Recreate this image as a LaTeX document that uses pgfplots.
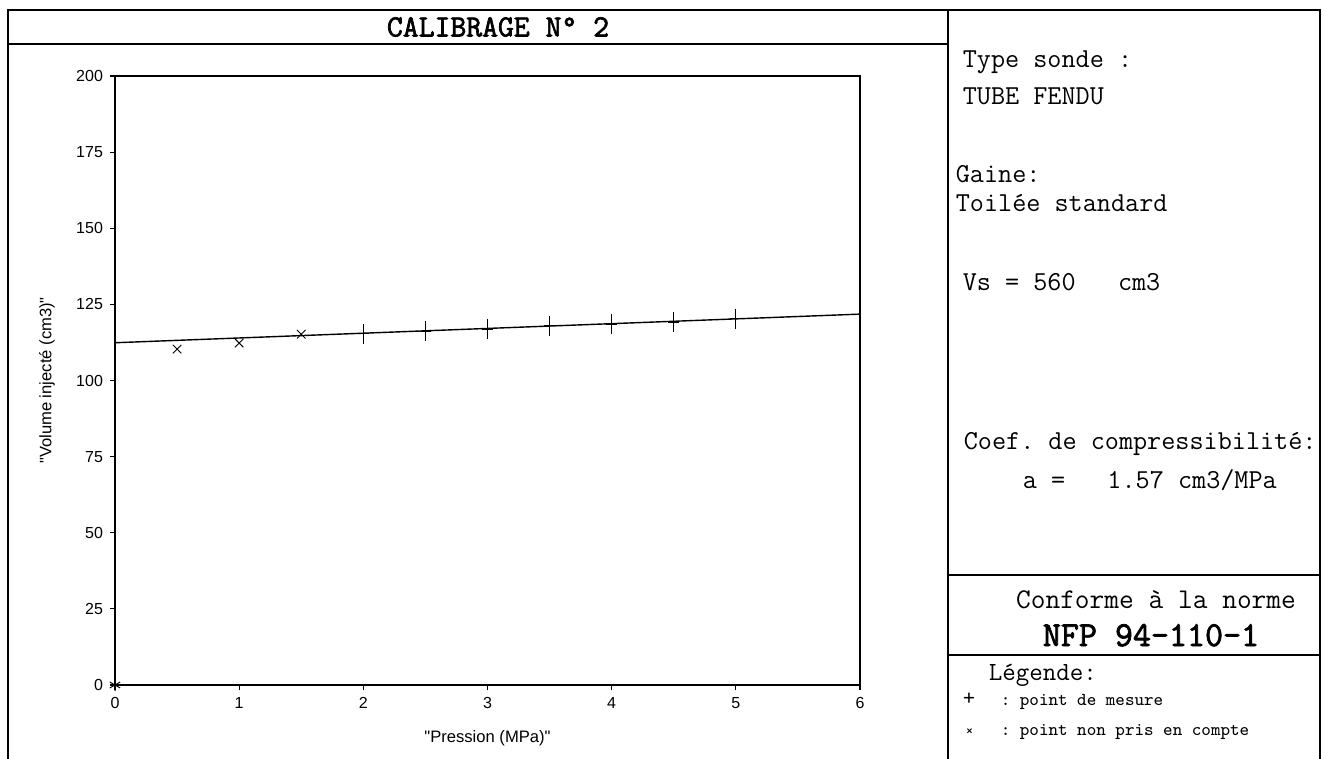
\documentclass[border=0pt]{standalone}
\usepackage{fontspec}
\setmainfont{Liberation Sans}[Ligatures=TeXOff]
\newfontfamily\monob{Latin Modern Mono}[FakeBold=2.2]
\usepackage{pgfplots}
\pgfplotsset{compat=1.18}
\newcommand{\mono}{\ttfamily}
\newcommand{\dq}{\symbol{34}}

\begin{document}
\begin{tikzpicture}
\useasboundingbox (0,0) rectangle (662pt,-379.5pt);

% frame and text blocks, 1 unit = 1 px of the reference
\begin{scope}[x=0.5pt,y=-0.5pt,line width=0.8pt]
  \draw (8,765) -- (8,10) -- (1320,10) -- (1320,765);
  \draw (948,10) -- (948,765);
  \draw (8,44) -- (948,44);
  \draw (948,575) -- (1320,575);
  \draw (948,655) -- (1320,655);

  \node[anchor=center,inner sep=0] at (498,27) {\monob\fontsize{15.4}{17}\selectfont CALIBRAGE N° 2};

  \begin{scope}[every node/.style={anchor=base west,inner sep=0}]
    \node at (962,68)  {\mono\fontsize{13.7}{15}\selectfont Type~sonde~:};
    \node at (962,105) {\mono\fontsize{13.7}{15}\selectfont TUBE~FENDU};
    \node at (955,183) {\mono\fontsize{13.7}{15}\selectfont Gaine:};
    \node at (955,212) {\mono\fontsize{13.7}{15}\selectfont Toilée~standard};
    \node at (962,291) {\mono\fontsize{13.7}{15}\selectfont Vs~=~560~~~cm3};
    \node at (963,450) {\mono\fontsize{13.7}{15}\selectfont Coef.~de~compressibilité:};
    \node at (1022,488) {\mono\fontsize{13.7}{15}\selectfont a~=~~~1.57~cm3/MPa};
    \node at (988,680) {\mono\fontsize{13.1}{15}\selectfont Légende:};
    \node at (962,705) {\mono\fontsize{12}{14}\selectfont +};
    \node at (1000,705) {\mono\fontsize{9.1}{11}\selectfont :~point~de~mesure};
    \node at (965,735) {\mono\fontsize{7}{9}\selectfont ×};
    \node at (1000,735) {\mono\fontsize{9.1}{11}\selectfont :~point~non~pris~en~compte};
  \end{scope}

  \node[anchor=base,inner sep=0] at (1156,608) {\mono\fontsize{14.3}{16}\selectfont Conforme~à~la~norme};
  \node[anchor=base,inner sep=0] at (1151,646) {\monob\fontsize{17.5}{19}\selectfont NFP~94-110-1};
\end{scope}

\begin{axis}[
  at={(57.5pt,-342.5pt)}, anchor=south west,
  scale only axis, width=372.5pt, height=304.5pt,
  xmin=0, xmax=6, ymin=0, ymax=200,
  xtick={0,1,2,3,4,5,6}, ytick={0,25,50,75,100,125,150,175,200},
  xtick pos=bottom, ytick pos=left,
  tick align=outside, major tick length=2.5pt,
  tick style={black, line width=0.6pt},
  axis line style={line width=1pt},
  /pgf/number format/assume math mode=true,
  ticklabel style={font=\fontsize{8}{9}\selectfont},
  xlabel={\dq Pression (MPa)\dq}, ylabel={\dq Volume injecté (cm3)\dq},
  label style={font=\fontsize{8.3}{9}\selectfont},
  xlabel style={at={(axis description cs:0.5,-0.087)}, anchor=center},
  ylabel style={at={(axis description cs:-0.0913,0.5)}, anchor=center},
  clip=false,
]
% regression line
\addplot[black, line width=0.7pt, no marks] coordinates {(0,112.4) (6,121.8)};
% measured points
\addplot[only marks, mark=+, mark size=5pt, mark options={xscale=0.55, line width=0.5pt}] coordinates {
  (2,115.3) (2.5,116.2) (3,116.9) (3.5,117.9) (4,118.4) (4.5,119.1) (5,120.2)
};
% points not taken into account
\addplot[only marks, mark=x, mark size=3pt, mark options={line width=0.45pt}] coordinates {
  (0.5,110.3) (1,112.3) (1.5,115.2)
};
\addplot[only marks, mark=asterisk, mark size=3pt, mark options={line width=0.5pt}] coordinates {(0,0)};
\end{axis}
\end{tikzpicture}
\end{document}
